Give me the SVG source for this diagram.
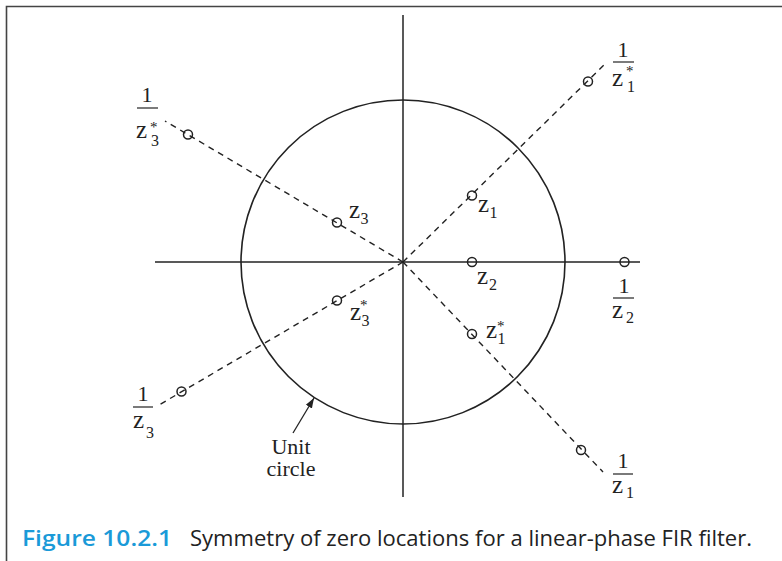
<svg xmlns="http://www.w3.org/2000/svg" width="782" height="561" viewBox="0 0 782 561">
<style>
.ax{stroke:#222;stroke-width:1.5;fill:none}
.uc{stroke:#222;stroke-width:1.6;fill:none}
.dash{stroke:#222;stroke-width:1.4;stroke-dasharray:6 5;fill:none}
.zero{stroke:#222;stroke-width:1.5;fill:none}
.bar{stroke:#222;stroke-width:1.2}
.v{font-family:"Liberation Serif","Times New Roman",serif;font-size:25px;fill:#222}
.n{font-family:"Liberation Serif","Times New Roman",serif;font-size:22px;fill:#222;text-anchor:middle}
.s{font-family:"Liberation Serif","Times New Roman",serif;font-size:16px;fill:#222}
.st{font-family:"Liberation Serif","Times New Roman",serif;font-size:15px;fill:#222}
.lbl{font-family:"Liberation Serif","Times New Roman",serif;font-size:22px;fill:#222;text-anchor:middle}
.cap{font-family:"Open Sans","Noto Sans",sans-serif;font-size:21px}
</style>
<defs>
<marker id="ah" viewBox="0 0 10 10" refX="10" refY="5" markerWidth="10" markerHeight="10" markerUnits="userSpaceOnUse" orient="auto">
<path d="M0,1.5 L10,5 L0,8.5 Z" fill="#222"/>
</marker>
</defs>
<rect width="782" height="561" fill="#fff"/>
<path d="M6.5,561 V6.5 H782" stroke="#444" stroke-width="1.6" fill="none"/>

<g id="axes">
<line class="ax" x1="155" y1="262" x2="640" y2="262"/>
<line class="ax" x1="403" y1="15" x2="403" y2="497"/>
</g>
<g id="unit-circle">
<circle class="uc" cx="403" cy="262" r="162"/>
</g>

<g id="connectors">
<line class="dash" x1="403" y1="262" x2="607" y2="62"/>
<line class="dash" x1="403" y1="262" x2="603" y2="472"/>
<line class="dash" x1="403" y1="262" x2="165" y2="121"/>
<line class="dash" x1="403" y1="262" x2="159" y2="405"/>
<line stroke="#222" stroke-width="1.3" x1="293" y1="433" x2="314" y2="398" marker-end="url(#ah)"/>
</g>

<g id="z1">
<circle class="zero" cx="472" cy="195.5" r="4.5"/>
<text class="v" x="478" y="212">z</text><text class="s" x="489.5" y="218">1</text>
</g>
<g id="z2">
<circle class="zero" cx="472" cy="262" r="4.5"/>
<text class="v" x="477" y="284">z</text><text class="s" x="489" y="290">2</text>
</g>
<g id="z3">
<circle class="zero" cx="337" cy="222.5" r="4.5"/>
<text class="v" x="349" y="218">z</text><text class="s" x="360.5" y="224">3</text>
</g>
<g id="z3conj">
<circle class="zero" cx="337" cy="300.5" r="4.5"/>
<text class="v" x="350" y="320">z</text><text class="st" x="360" y="310">*</text><text class="s" x="361.5" y="326">3</text>
</g>
<g id="z1conj">
<circle class="zero" cx="472" cy="334" r="4.5"/>
<text class="v" x="486" y="338">z</text><text class="st" x="497" y="331">*</text><text class="s" x="497.5" y="344">1</text>
</g>

<g id="inv-z1conj">
<circle class="zero" cx="588" cy="81.5" r="4.5"/>
<text class="n" x="623" y="57">1</text>
<line class="bar" x1="613" y1="62" x2="634" y2="62"/>
<text class="v" x="612" y="86">z</text><text class="st" x="626" y="76">*</text><text class="s" x="627" y="92">1</text>
</g>
<g id="inv-z3conj">
<circle class="zero" cx="188" cy="134.5" r="4.5"/>
<text class="n" x="147" y="102">1</text>
<line class="bar" x1="137" y1="108" x2="158" y2="108"/>
<text class="v" x="136" y="138">z</text><text class="st" x="150" y="132">*</text><text class="s" x="151" y="146">3</text>
</g>
<g id="inv-z2">
<circle class="zero" cx="624.5" cy="262" r="4.5"/>
<text class="n" x="624" y="293">1</text>
<line class="bar" x1="613" y1="298" x2="634" y2="298"/>
<text class="v" x="612" y="318">z</text><text class="s" x="626" y="323">2</text>
</g>
<g id="inv-z3">
<circle class="zero" cx="181.5" cy="391.5" r="4.5"/>
<text class="n" x="143" y="401">1</text>
<line class="bar" x1="133" y1="407" x2="153" y2="407"/>
<text class="v" x="133" y="428">z</text><text class="s" x="146" y="438">3</text>
</g>
<g id="inv-z1">
<circle class="zero" cx="581" cy="450" r="4.5"/>
<text class="n" x="623" y="468">1</text>
<line class="bar" x1="613" y1="474" x2="633" y2="474"/>
<text class="v" x="612" y="493">z</text><text class="s" x="626" y="498">1</text>
</g>

<g id="unit-circle-label">
<text class="lbl" x="291" y="454">Unit</text>
<text class="lbl" x="291" y="476">circle</text>
</g>

<g id="caption">
<text class="cap" x="22" y="546" fill="#1a9ad8" font-weight="600" textLength="150" lengthAdjust="spacingAndGlyphs">Figure 10.2.1</text>
<text class="cap" x="190" y="546" fill="#222" textLength="562" lengthAdjust="spacingAndGlyphs">Symmetry of zero locations for a linear-phase FIR filter.</text>
</g>
</svg>
